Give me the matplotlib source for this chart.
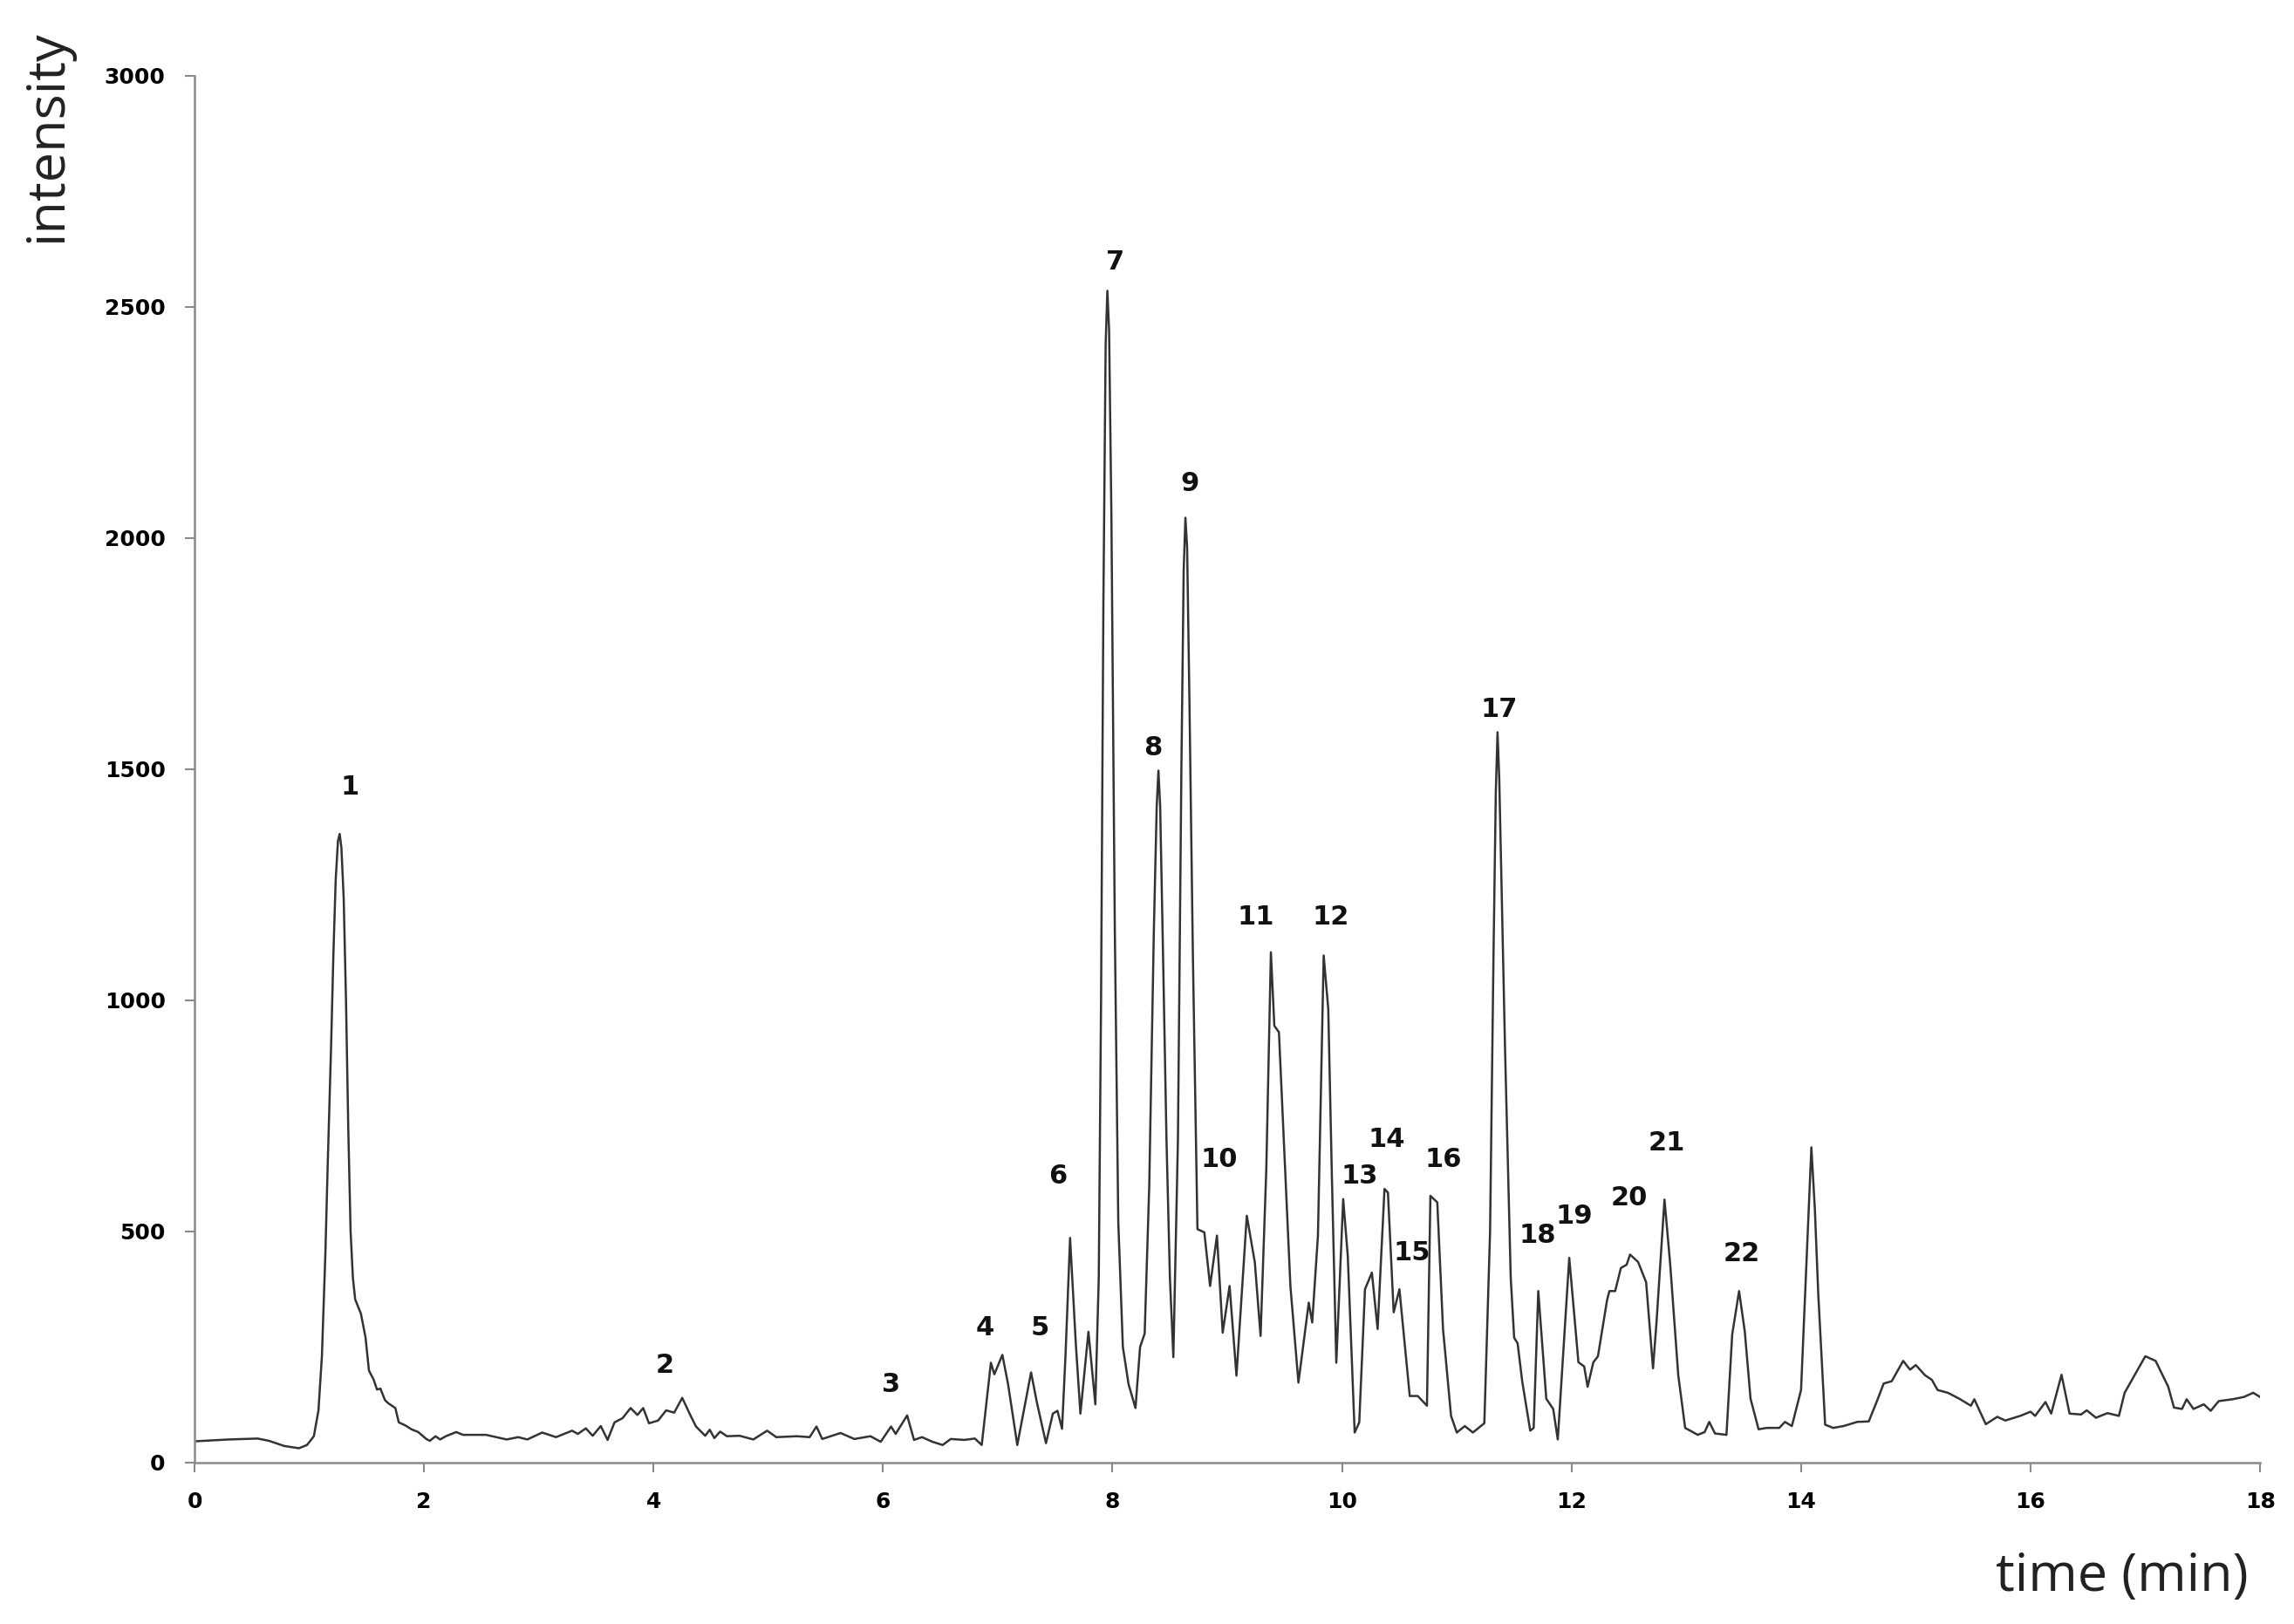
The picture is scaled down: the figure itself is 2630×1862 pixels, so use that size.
import matplotlib.pyplot as plt

# chromatogram trace
time_min = [
    0.00, 0.30, 0.55, 0.65, 0.78, 0.91, 0.98, 1.04, 1.08, 1.11, 1.14, 1.16, 1.19, 1.21, 1.23, 1.25, 1.265,
    1.28, 1.30, 1.32, 1.34, 1.36, 1.38, 1.40, 1.45, 1.49, 1.52, 1.56, 1.59, 1.62, 1.66, 1.69, 1.75, 1.78, 1.84,
    1.89, 1.95, 2.02, 2.05, 2.10, 2.14, 2.19, 2.28, 2.34, 2.54, 2.72, 2.82, 2.90, 3.03, 3.15, 3.29,
    3.34, 3.41, 3.47, 3.54, 3.60, 3.66, 3.73, 3.80, 3.86, 3.91, 3.96, 4.04, 4.11, 4.18, 4.25, 4.32,
    4.37, 4.45, 4.49, 4.53, 4.58, 4.64, 4.75, 4.87, 4.99, 5.07, 5.25, 5.36, 5.42, 5.47, 5.63, 5.75,
    5.89, 5.98, 6.07, 6.11, 6.21, 6.27, 6.34, 6.43, 6.52, 6.59, 6.71, 6.80, 6.86, 6.94, 6.97, 7.04,
    7.09, 7.17, 7.29, 7.34, 7.42, 7.48, 7.52, 7.56, 7.59, 7.63, 7.68, 7.72, 7.79, 7.85, 7.88, 7.90, 7.92,
    7.94, 7.955, 7.97, 7.99, 8.02, 8.05, 8.09, 8.14, 8.20, 8.24, 8.28, 8.32, 8.36, 8.385, 8.40, 8.415, 8.44, 8.47, 8.50,
    8.53, 8.57, 8.60, 8.62, 8.635, 8.65, 8.67, 8.70, 8.74, 8.80, 8.85, 8.91, 8.96, 9.02, 9.08, 9.17, 9.24, 9.29,
    9.34, 9.38, 9.41, 9.45, 9.52, 9.55, 9.62, 9.71, 9.74, 9.79, 9.84, 9.88, 9.91, 9.95, 10.01, 10.05,
    10.11, 10.15, 10.20, 10.26, 10.31, 10.37, 10.40, 10.45, 10.50, 10.59, 10.66, 10.74, 10.77, 10.83,
    10.88, 10.95, 11.00, 11.07, 11.14, 11.24, 11.29, 11.32, 11.34, 11.355, 11.37, 11.39, 11.42, 11.47, 11.50, 11.53,
    11.57, 11.64, 11.67, 11.71, 11.78, 11.84, 11.88, 11.98, 12.06, 12.11, 12.14, 12.19, 12.23, 12.31,
    12.33, 12.38, 12.43, 12.48, 12.51, 12.58, 12.65, 12.71, 12.74, 12.81, 12.86, 12.93, 12.99, 13.10,
    13.16, 13.20, 13.25, 13.35, 13.40, 13.46, 13.51, 13.56, 13.63, 13.70, 13.81, 13.86, 13.92, 14.00,
    14.05, 14.09, 14.12, 14.15, 14.21, 14.28, 14.37, 14.49, 14.59, 14.66, 14.72, 14.79, 14.89, 14.95,
    15.00, 15.08, 15.14, 15.19, 15.28, 15.38, 15.48, 15.51, 15.61, 15.71, 15.78, 15.91, 16.00, 16.04,
    16.13, 16.18, 16.27, 16.34, 16.44, 16.49, 16.57, 16.67, 16.77, 16.82, 17.00, 17.09, 17.20, 17.25,
    17.32, 17.36, 17.42, 17.51, 17.57, 17.64, 17.76, 17.86, 17.94, 18.00,
]
intensity = [
    46, 50, 52, 47, 36, 31, 38, 57, 113, 230, 450, 639, 900, 1099, 1260, 1345, 1360,
    1330, 1220, 1000, 720, 500, 400, 353, 322, 271, 199, 180, 158, 160, 135, 128, 118, 87, 80,
    72, 66, 51, 47, 57, 50, 57, 66, 60, 60, 50, 55, 50, 65, 55, 69,
    62, 74, 58, 79, 49, 87, 96, 118, 103, 118, 85, 91, 113, 108, 140, 103,
    78, 58, 71, 53, 67, 57, 58, 50, 69, 55, 57, 55, 78, 51, 64, 51,
    57, 45, 78, 62, 102, 49, 55, 45, 38, 51, 49, 52, 38, 216, 191, 233,
    169, 38, 195, 131, 42, 106, 112, 73, 231, 486, 257, 106, 283, 126, 400, 1000, 1850,
    2420, 2535, 2450, 2050, 1150, 521, 250, 169, 118, 250, 279, 600, 1150, 1420, 1497, 1420, 1100, 700, 400,
    228, 700, 1500, 1930, 2044, 1980, 1650, 1100, 505, 498, 382, 491, 281, 382, 188, 534, 433, 274,
    635, 1104, 945, 931, 548, 382, 173, 346, 303, 491, 1097, 981, 635, 216, 570, 447,
    65, 87, 375, 411, 289, 592, 584, 325, 375, 144, 144, 123, 577, 563,
    289, 101, 65, 79, 65, 85, 500, 1100, 1450, 1580, 1480, 1250, 900, 400, 270, 258,
    176, 69, 75, 371, 138, 116, 50, 443, 217, 208, 164, 217, 230, 352,
    371, 371, 421, 428, 450, 434, 390, 204, 302, 569, 428, 189, 75, 60,
    66, 88, 63, 60, 277, 371, 283, 138, 72, 75, 75, 88, 79, 157,
    450, 682, 550, 365, 82, 75, 79, 88, 89, 132, 171, 176, 220, 201,
    211, 189, 179, 157, 151, 138, 123, 137, 83, 99, 91, 101, 110, 101,
    131, 106, 190, 106, 104, 113, 97, 107, 101, 151, 230, 220, 164, 119,
    116, 137, 116, 126, 112, 133, 137, 142, 151, 142,
]

# peak numbers and where their labels sit (time, intensity)
peak_ids = [str(i) for i in range(1, 23)]
label_t = [1.35, 4.10, 6.07, 6.89, 7.37, 7.52, 8.02, 8.35, 8.67, 8.93, 9.25,
           9.90, 10.15, 10.39, 10.61, 10.88, 11.37, 11.70, 12.02, 12.50, 12.83, 13.48]
label_i = [1461, 210, 168, 291, 291, 619, 2597, 1546, 2117, 655, 1181,
           1181, 619, 698, 453, 655, 1629, 491, 532, 572, 692, 451]

x_ticks = list(range(0, 19, 2))
y_ticks = list(range(0, 3001, 500))

fig = plt.figure(figsize=(26.3, 18.62), dpi=100)
ax = fig.add_axes([0.0848, 0.0994, 0.9004, 0.8539])

ax.plot(time_min, intensity, color="#333333", linewidth=1.8)

for pid, t, i in zip(peak_ids, label_t, label_i):
    ax.text(t, i, pid, ha="center", va="center", fontsize=22, fontweight="bold",
            family="DejaVu Sans", color="#111111")

ax.set_xlim(0, 18)
ax.set_ylim(0, 3000)
ax.set_xticks(x_ticks)
ax.set_yticks(y_ticks)
ax.tick_params(axis="both", direction="out", length=8, width=1.5, color="#8a8a8a",
               labelsize=18, pad=16)
for lab in ax.get_xticklabels() + ax.get_yticklabels():
    lab.set_fontweight("bold")

for side in ["top", "right"]:
    ax.spines[side].set_visible(False)
for side in ["left", "bottom"]:
    ax.spines[side].set_color("#8a8a8a")
    ax.spines[side].set_linewidth(1.8)

fig.text(0.0205, 0.916, "intensity", rotation=90, ha="center", va="center",
         fontsize=44, family="Open Sans", color="#222222")
fig.text(0.925, 0.029, "time (min)", ha="center", va="center",
         fontsize=44, family="Open Sans", color="#222222")

fig.savefig("out.png", dpi=100)
